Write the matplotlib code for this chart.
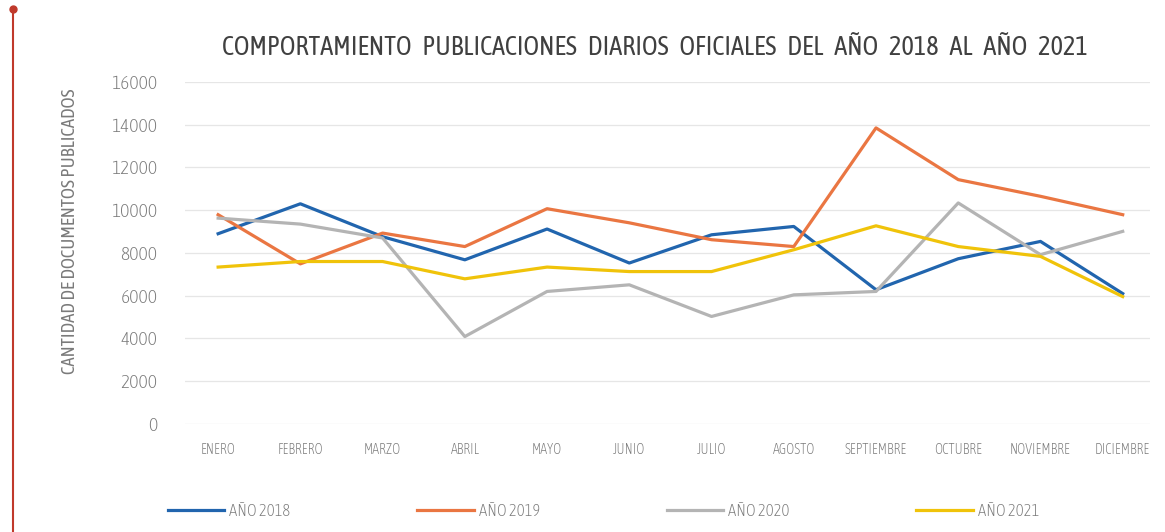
import numpy as np
import matplotlib.pyplot as plt
from matplotlib.lines import Line2D

plt.rcParams['font.family'] = ['Asap Condensed', 'DejaVu Sans']
plt.rcParams['font.weight'] = 'light'

meses = ['ENERO', 'FEBRERO', 'MARZO', 'ABRIL', 'MAYO', 'JUNIO', 'JULIO', 'AGOSTO',
         'SEPTIEMBRE', 'OCTUBRE', 'NOVIEMBRE', 'DICIEMBRE']
a2018 = [8900, 10300, 8760, 7680, 9120, 7530, 8850, 9240, 6280, 7730, 8540, 6100]
a2019 = [9790, 7490, 8930, 8300, 10070, 9410, 8620, 8300, 13850, 11430, 10650, 9790]
a2020 = [9630, 9350, 8700, 4090, 6200, 6510, 5030, 6040, 6200, 10340, 7920, 9010]
a2021 = [7340, 7600, 7600, 6790, 7340, 7130, 7130, 8150, 9270, 8300, 7840, 5960]
etiquetas = ['AÑO 2018', 'AÑO 2019', 'AÑO 2020', 'AÑO 2021']
colores = ['#2165ae', '#ea7642', '#b4b4b4', '#f0c30a']
yticks = np.arange(0, 16001, 2000)

fig = plt.figure(figsize=(11.65, 5.32), dpi=100)
ax = fig.add_axes([0.159, 0.203, 0.828, 0.643])

x = np.arange(len(meses))
for serie, lab, col in zip([a2018, a2019, a2020, a2021], etiquetas, colores):
    ax.plot(x, serie, color=col, lw=2.3, label=lab)

ax.set_xlim(-0.4, 11.33)
ax.set_ylim(0, 16000)
ax.set_yticks(yticks)
ax.set_yticklabels([str(v) for v in yticks], fontsize=14, color='#7a7a7a')
ax.set_xticks(x)
ax.set_xticklabels(meses, fontsize=10, color='#7a7a7a')
ax.tick_params(axis='x', length=0, pad=14)
ax.tick_params(axis='y', length=0, pad=20)
ax.grid(axis='y', color='#e6e6e6', lw=0.9)
for s in ax.spines.values():
    s.set_visible(False)

ax.set_ylabel('CANTIDAD DE DOCUMENTOS PUBLICADOS', fontsize=13.5, color='#7a7a7a')
ax.yaxis.set_label_coords(-0.11, 0.564)
fig.text(0.562, 0.91, 'COMPORTAMIENTO   PUBLICACIONES   DIARIOS   OFICIALES   DEL   AÑO   2018   AL   AÑO   2021',
         ha='center', va='center', fontsize=19, color='#404040', fontweight='normal')

fig.legend(loc='center', bbox_to_anchor=(0.518, 0.038), ncol=4, frameon=False,
           fontsize=12, labelcolor='#7a7a7a', handlelength=3.4, columnspacing=7.6,
           handletextpad=0.3)

# margen rojo del documento escaneado
fig.add_artist(Line2D([0.011, 0.011], [0, 0.985], color='#c0392b', lw=1.5))
fig.add_artist(Line2D([0.011], [0.983], marker='o', color='#c0392b', markersize=5))

fig.savefig('out.png', dpi=100)
